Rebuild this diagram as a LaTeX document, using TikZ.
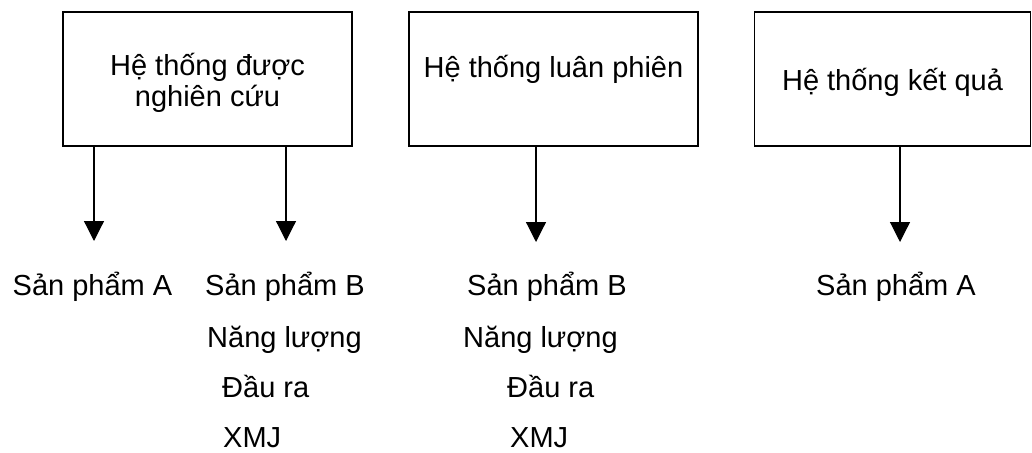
\documentclass[tikz,border=0pt]{standalone}
\usepackage{fontspec}
\setmainfont{Liberation Sans}
\usetikzlibrary{arrows.meta}
\tikzset{
    sysbox/.style={draw, line width=1.5pt, align=center, inner sep=0pt, minimum height=134},
    item/.style={anchor=base west, inner sep=0pt},
    flow/.style={line width=1.2pt, -{Triangle[length=20pt,width=20pt]}}
}
\begin{document}
\begin{tikzpicture}[x=1pt,y=-1pt,font=\fontsize{29}{31}\selectfont]
    \useasboundingbox (0,0) rectangle (1032,452);
    % the three systems
    \node[sysbox, minimum width=289, text height=60pt, text depth=6pt] (studied) at (207.5,79) {Hệ thống được\\nghiên cứu};
    \node[sysbox, minimum width=289, text height=20pt, text depth=24pt] (alternate) at (553.5,79) {Hệ thống luân phiên};
    \node[sysbox, minimum width=276, text height=28pt, text depth=6pt] (result) at (892.5,79) {Hệ thống kết quả};
    % arrow tips
    \coordinate (tipA) at (94,241);
    \coordinate (tipB) at (286,241);
    \coordinate (tipC) at (536,242);
    \coordinate (tipD) at (900,242);
    \foreach \sys/\tip in {studied/tipA,studied/tipB,alternate/tipC,result/tipD}
        {\draw[flow] (\sys.south -| \tip) -- (\tip);
        }
    % outputs
    \node[item] (prodA) at (12.5,295) {Sản phẩm A};
    \node[item] (prodB) at (205,295) {Sản phẩm B};
    \node[item] (energy) at (207,347) {Năng lượng};
    \node[item] (output) at (222,397) {Đầu ra};
    \node[item] (xmj) at (223,447) {XMJ};
    \node[item] (altProdB) at (467,295) {Sản phẩm B};
    \node[item] (altEnergy) at (463,347) {Năng lượng};
    \node[item] (altOutput) at (507,397) {Đầu ra};
    \node[item] (altXmj) at (510,447) {XMJ};
    \node[item] (resProdA) at (816,295) {Sản phẩm A};
\end{tikzpicture}
\end{document}
